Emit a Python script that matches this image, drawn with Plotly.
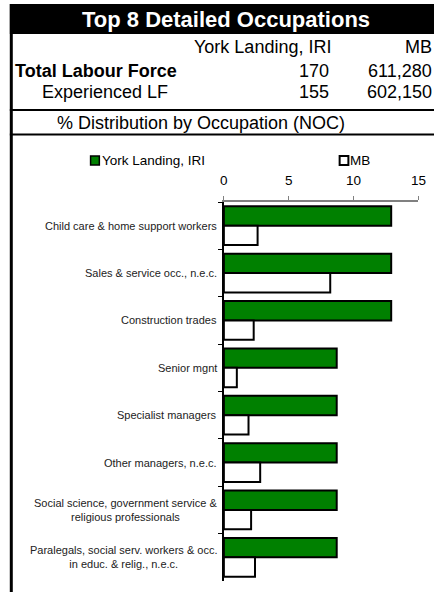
import plotly.graph_objects as go

W, H = 442, 592

# ---- data ----
categories = [
    "Child care & home support workers",
    "Sales & service occ., n.e.c.",
    "Construction trades",
    "Senior mgnt",
    "Specialist managers",
    "Other managers, n.e.c.",
    "Social science, government service &<br>religious professionals",
    "Paralegals, social serv. workers & occ.<br>in educ. & relig., n.e.c.",
]
york_values = [12.9, 12.9, 12.9, 8.7, 8.7, 8.7, 8.7, 8.7]
mb_values = [2.6, 8.2, 2.3, 1.0, 1.9, 2.8, 2.1, 2.4]
series_names = ["York Landing, IRI", "MB"]
x_ticks = [0, 5, 10, 15]

title_text = "Top 8 Detailed Occupations"
row_labels = ["Total Labour Force", "Experienced LF"]
york_counts = ["170", "155"]
mb_counts = ["611,280", "602,150"]
section_text = "% Distribution by Occupation (NOC)"

FONT = "Liberation Sans, Arial, sans-serif"


def px(x):
    return x / W


def py(y):
    return 1 - y / H


fig = go.Figure()
fig.add_trace(go.Bar(
    y=categories, x=york_values, name=series_names[0], orientation="h",
    marker=dict(color="#008000", line=dict(color="black", width=2)),
    showlegend=False,
))
fig.add_trace(go.Bar(
    y=categories, x=mb_values, name=series_names[1], orientation="h",
    marker=dict(color="white", line=dict(color="black", width=2)),
    showlegend=False,
))

shapes = []
# title band
shapes.append(dict(type="rect", xref="paper", yref="paper",
                   x0=px(6), x1=px(442), y0=py(34), y1=py(4),
                   fillcolor="black", line=dict(width=0), layer="below"))
# horizontal rules
for yy in [110, 134.5]:
    shapes.append(dict(type="line", xref="paper", yref="paper",
                       x0=px(6), x1=px(442), y0=py(yy), y1=py(yy),
                       line=dict(color="black", width=2)))
# left border
shapes.append(dict(type="line", xref="paper", yref="paper",
                   x0=px(7.5), x1=px(7.5), y0=py(4), y1=py(592),
                   line=dict(color="black", width=3)))
# legend swatches
shapes.append(dict(type="rect", xref="paper", yref="paper",
                   x0=px(89), x1=px(98), y0=py(165), y1=py(156),
                   fillcolor="#008000", line=dict(color="black", width=1.5)))
shapes.append(dict(type="rect", xref="paper", yref="paper",
                   x0=px(345), x1=px(354), y0=py(165), y1=py(156),
                   fillcolor="white", line=dict(color="black", width=2)))

ann = []


def text(x, y, s, size, anchor="left", bold=False, color="black"):
    ann.append(dict(xref="paper", yref="paper", x=px(x), y=py(y),
                    text=("<b>%s</b>" % s) if bold else s, showarrow=False,
                    xanchor=anchor, yanchor="middle",
                    font=dict(family=FONT, size=size, color=color)))


text(228, 19, title_text, 22, anchor="center", bold=True, color="white")
text(338, 47, series_names[0], 18, anchor="right")
text(442, 47, series_names[1], 18, anchor="right")
text(9, 71, row_labels[0], 18, bold=True)
text(37, 92, row_labels[1], 18)
for i, yy in enumerate([71, 92]):
    text(336, yy, york_counts[i], 18, anchor="right")
    text(442, yy, mb_counts[i], 18, anchor="right")
text(202, 123, section_text, 18, anchor="center")
# legend texts
text(99, 161, series_names[0], 13.5)
text(354, 161, series_names[1], 13.5)

# category labels
for c in categories:
    ann.append(dict(xref="paper", yref="y", x=px(221), y=c, text=c,
                    showarrow=False, xanchor="right", yanchor="middle",
                    align="center",
                    font=dict(family=FONT, size=11, color="#222222")))

fig.update_layout(
    width=W, height=H,
    margin=dict(l=0, r=0, t=0, b=0),
    paper_bgcolor="white", plot_bgcolor="white",
    barmode="group", bargap=0.18, bargroupgap=0,
    shapes=shapes, annotations=ann,
    font=dict(family=FONT),
    xaxis=dict(domain=[px(226), px(426)], range=[0, 15], side="top",
               tickvals=x_ticks, showgrid=False, zeroline=False,
               showline=True, linecolor="#808080", linewidth=1.5,
               ticks="outside", ticklen=4, tickcolor="#808080",
               ticklabelstandoff=6,
               tickfont=dict(family=FONT, size=13.5, color="black")),
    yaxis=dict(domain=[py(581), py(202)], type="category",
               autorange="reversed", showgrid=False, zeroline=False,
               showline=True, linecolor="black", linewidth=1.5,
               ticks="outside", ticklen=4, tickcolor="black",
               tickson="boundaries", showticklabels=False),
)

post = (
    "document.documentElement.style.margin='0';"
    "document.documentElement.style.overflow='hidden';"
    "document.body.style.margin='0';"
    "document.body.style.overflow='hidden';"
    "var d=document.getElementById('{plot_id}');"
    "d.style.position='fixed';d.style.left='0px';d.style.top='0px';"
)

fig.write_html("out.html", config={"displayModeBar": False}, post_script=post)
